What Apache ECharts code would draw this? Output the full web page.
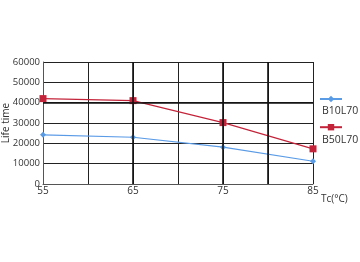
<!DOCTYPE html>
<html><head><meta charset="utf-8">
<script src="https://cdn.jsdelivr.net/npm/echarts@6/dist/echarts.min.js"></script>
<style>html,body{margin:0;padding:0;background:#fff}#c{width:360px;height:262px}</style>
</head><body><div id="c"></div>
<script>
const temps = [55, 65, 75, 85];
const b10l70 = [24200, 23000, 18100, 11200];
const b50l70 = [42000, 41000, 30200, 17300];
const xTickLabels = [55, 65, 75, 85];
const seriesNames = ['B10L70', 'B50L70'];
const blue = '#5a9be6', red = '#c4243a';
const font = 'Open Sans';
const chart = echarts.init(document.getElementById('c'), null, {renderer: 'canvas'});
chart.setOption({
  animation: false,
  grid: {left: 43, right: 47, top: 62, bottom: 78, containLabel: false, outerBoundsMode: 'none'},
  xAxis: {
    type: 'value', min: 55, max: 85, interval: 5,
    axisLine: {lineStyle: {color: '#555', width: 1}},
    axisTick: {show: false},
    axisLabel: {color: '#333', fontSize: 10, fontFamily: font, margin: 2,
      formatter: v => xTickLabels.includes(v) ? String(v) : ''},
    splitLine: {show: true, lineStyle: {color: '#222', width: 1}},
    name: 'Tc(°C)', nameLocation: 'end', nameGap: 8, nameMoveOverlap: false,
    nameTextStyle: {color: '#333', fontSize: 10, fontFamily: font, verticalAlign: 'top', padding: [10, 0, 0, 0]}
  },
  yAxis: {
    type: 'value', min: 0, max: 60000, interval: 10000,
    axisLine: {show: true, lineStyle: {color: '#555', width: 1}},
    axisTick: {show: false},
    axisLabel: {color: '#333', fontSize: 9.5, fontFamily: font, margin: 3, formatter: v => String(v)},
    splitLine: {show: true, lineStyle: {color: '#222', width: 1}},
    name: 'Life time', nameLocation: 'middle', nameGap: 32, nameMoveOverlap: false,
    nameTextStyle: {color: '#333', fontSize: 10, fontFamily: font}
  },
  legend: {
    orient: 'vertical', left: 319, top: 95, itemWidth: 22, itemHeight: 8, itemGap: 21, padding: 0,
    data: seriesNames, formatter: () => '',
    textStyle: {fontSize: 1}
  },
  graphic: [
    {type: 'text', left: 322, top: 106, style: {text: seriesNames[0], fill: '#333', fontSize: 10.5, fontFamily: font}},
    {type: 'text', left: 322, top: 135, style: {text: seriesNames[1], fill: '#333', fontSize: 10.5, fontFamily: font}}
  ],
  series: [
    {type: 'line', name: '_grid', data: [], z: 1, silent: true,
      markLine: {silent: true, symbol: 'none', label: {show: false},
        lineStyle: {color: '#111', width: 1.6, type: 'solid'},
        data: [{xAxis: 65}, {xAxis: 75}, {xAxis: 80}, {yAxis: 40000}]}},
    {type: 'line', name: seriesNames[0], data: temps.map((t, i) => [t, b10l70[i]]),
      symbol: 'diamond', symbolSize: 6, itemStyle: {color: blue}, lineStyle: {color: blue, width: 1.2}, z: 3},
    {type: 'line', name: seriesNames[1], data: temps.map((t, i) => [t, b50l70[i]]),
      symbol: 'rect', symbolSize: 7, itemStyle: {color: red}, lineStyle: {color: red, width: 1.2}, z: 4}
  ]
});
</script></body></html>
